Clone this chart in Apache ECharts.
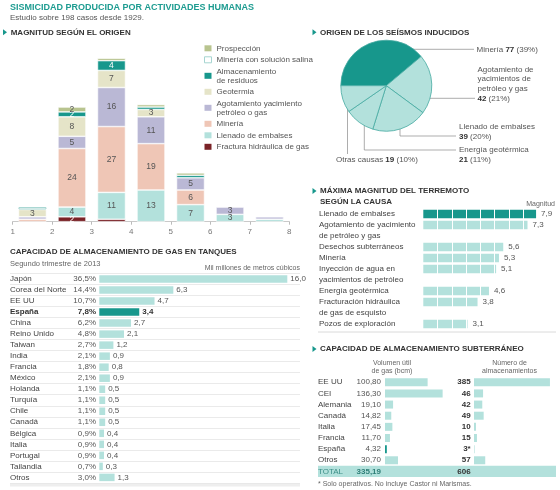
<!DOCTYPE html>
<html><head><meta charset="utf-8">
<script src="https://cdn.jsdelivr.net/npm/echarts@6/dist/echarts.min.js"></script>
<style>html,body{margin:0;padding:0;background:#fff}#c{width:560px;height:490px}</style>
</head><body><div id="c"></div>
<script>
// ================= DATA =================
// Stacked chart: magnitude bins
const magnitudeBins = ['1-2', '2-3', '3-4', '4-5', '5-6', '6-7', '7-8'];
const originNames = ['Fractura hidráulica de gas', 'Llenado de embalses', 'Minería',
  'Agotamiento yacimiento\npetróleo o gas', 'Geotermia', 'Almacenamiento\nde residuos',
  'Minería con solución salina', 'Prospección'];
const fractura       = [0, 2, 1, 0, 0, 0, 0];
const llenado        = [0, 4, 11, 13, 7, 3, 1];
const mineria        = [1, 24, 27, 19, 6, 0, 0];
const agotamiento    = [1, 5, 16, 11, 5, 3, 1];
const geotermia      = [3, 8, 7, 3, 0, 0, 0];
const almacenamiento = [0, 2, 4, 1, 1, 0, 0];
const salina         = [1, 0, 0, 0, 0, 0, 0];
const prospeccion    = [0, 2, 1, 1, 1, 0, 0];
const magnitudeTicks = ['1', '2', '3', '4', '5', '6', '7', '8'];

// Pie: origin of induced earthquakes
const pieNames = ['Minería', 'Agotamiento de\nyacimientos de\npetróleo y gas', 'Llenado de embalses', 'Energía geotérmica', 'Otras causas'];
const pieValues = [77, 42, 39, 21, 19];
const piePercents = [39, 21, 20, 11, 10];

// Maximum magnitude by cause
const causes = ['Llenado de embalses', 'Agotamiento de yacimiento\nde petróleo y gas', 'Desechos subterráneos',
  'Minería', 'Inyección de agua en\nyacimientos de petróleo', 'Energía geotérmica',
  'Fracturación hidráulica\nde gas de esquisto', 'Pozos de exploración'];
const maxMagnitudes = [7.9, 7.3, 5.6, 5.3, 5.1, 4.6, 3.8, 3.1];

// Gas tank storage capacity
const tankCountries = ['Japón', 'Corea del Norte', 'EE UU', 'España', 'China', 'Reino Unido', 'Taiwan', 'India',
  'Francia', 'México', 'Holanda', 'Turquía', 'Chile', 'Canadá', 'Bélgica', 'Italia', 'Portugal', 'Tailandia', 'Otros'];
const tankShares = [36.5, 14.4, 10.7, 7.8, 6.2, 4.8, 2.7, 2.1, 1.8, 2.1, 1.1, 1.1, 1.1, 1.1, 0.9, 0.9, 0.9, 0.7, 3.0];
const tankVolumes = [16.0, 6.3, 4.7, 3.4, 2.7, 2.1, 1.2, 0.9, 0.8, 0.9, 0.5, 0.5, 0.5, 0.5, 0.4, 0.4, 0.4, 0.3, 1.3];
const highlightCountry = 'España';

// Underground storage
const storageCountries = ['EE UU', 'CEI', 'Alemania', 'Canadá', 'Italia', 'Francia', 'España', 'Otros'];
const storageVolumes = [100.80, 136.30, 19.10, 14.82, 17.45, 11.70, 4.32, 30.70];
const storageCounts = [385, 46, 42, 49, 10, 15, 3, 57];
const storageCountNotes = ['', '', '', '', '', '', '*', ''];
const storageTotalLabel = 'TOTAL';
const storageTotalVolume = 335.19;
const storageTotalCount = 606;

// ================= STYLE / LAYOUT =================
const TEAL = '#17978c';
const LIGHT = '#b3e1dc';
const FONT = '"Liberation Sans", Arial, sans-serif';
const originColors = ['#7a2327', LIGHT, '#efc6b6', '#bab8d5', '#e5e4c8', TEAL, '#ffffff', '#b8c48f'];
const originLabelColors = ['#fff', '#555', '#555', '#555', '#555', '#fff', '#555', '#555'];
const originData = [fractura, llenado, mineria, agotamiento, geotermia, almacenamiento, salina, prospeccion];
const SALINA_IDX = 6;
const comma1 = v => v.toFixed(1).replace('.', ',');
const comma2 = v => v.toFixed(2).replace('.', ',');

// pie label layout (positions only)
const pieLabelLayout = [
  { x: 476.5, y: 44.5, sameLine: true,  pts: [[399.5, 49.3], [440, 49.3], [474, 49.3]] },
  { x: 477.5, y: 64.5, sameLine: false, pts: [[420.5, 98.3], [450, 98.3], [475, 98.3]] },
  { x: 459,   y: 122,  sameLine: false, pts: [[400, 122.7], [400, 136], [456, 136]] },
  { x: 459,   y: 145.2, sameLine: false, pts: [[364.3, 120], [364.3, 150], [456, 150]] },
  { x: 336,   y: 155.3, sameLine: true,  pts: [[347.5, 100], [347.5, 130], [347.5, 154]] }
];

// Build slot rows for multi-line cause labels
const causeSlots = [], causeSlotValues = [];
causes.forEach((c, i) => {
  c.split('\n').forEach((line, k) => {
    causeSlots.push(line);
    causeSlotValues.push(k === 0 ? { value: maxMagnitudes[i], itemStyle: { color: i === 0 ? TEAL : LIGHT } } : '-');
  });
});

const tankPx = 11.75; // px per unit
const tankLabelSpace = 89.3;
const tankGridWidth = 290;

const stackSeries = originNames.map((name, i) => ({
  type: 'bar', name, stack: 'origin', xAxisIndex: 0, yAxisIndex: 0, barWidth: 28,
  data: originData[i].map(v => (v > 0 ? v : '-')),
  itemStyle: { color: originColors[i], borderColor: i === SALINA_IDX ? '#a6d5d1' : '#fff', borderWidth: i === SALINA_IDX ? 1 : 0.6 },
  label: { show: true, position: 'inside', fontSize: 8.5, fontFamily: FONT, color: originLabelColors[i],
    formatter: p => (p.value >= 2 ? String(p.value) : '') }
}));

const legendData = originNames.map((n, i) => ({
  name: n,
  itemStyle: i === SALINA_IDX ? { borderColor: '#a6d5d1', borderWidth: 1 } : { borderWidth: 0 }
})).reverse();

const option = {
  animation: false,
  textStyle: { fontFamily: FONT },
  legend: {
    orient: 'vertical', left: 199, top: 38.8, itemWidth: 7, itemHeight: 6, itemGap: 2.5,
    icon: 'rect', data: legendData,
    textStyle: { fontSize: 8, color: '#555', lineHeight: 9, fontFamily: FONT }
  },
  grid: [
    { left: 12.7, top: 50.9, width: 276.6, height: 170.8 },
    { left: 423.3, top: 208.5, width: 114.2, height: 121 },
    { left: 10, top: 273.5, width: tankGridWidth, height: 209.4 },
    { left: 385, top: 376.7, width: 59.2, height: 100.3 },
    { left: 474, top: 376.7, width: 78.9, height: 100.3 }
  ],
  xAxis: [
    { gridIndex: 0, type: 'category', data: magnitudeBins, position: 'bottom', show: false },
    { gridIndex: 1, type: 'value', min: 0, max: 8, interval: 1, z: 3,
      axisLine: { show: false }, axisTick: { show: false }, axisLabel: { show: false },
      splitLine: { show: true, showMinLine: false, showMaxLine: false, lineStyle: { color: '#fff', width: 1 } } },
    { gridIndex: 2, type: 'value', min: -tankLabelSpace / tankPx, max: (tankGridWidth - tankLabelSpace) / tankPx,
      axisLine: { show: false }, axisTick: { show: false }, axisLabel: { show: false }, splitLine: { show: false } },
    { gridIndex: 3, type: 'value', min: 0, max: 140, show: false },
    { gridIndex: 4, type: 'value', min: 0, max: 400, show: false },
    { gridIndex: 0, type: 'value', min: 1, max: 8, interval: 1, position: 'bottom',
      axisLine: { lineStyle: { color: '#bbb', width: 0.8 } },
      axisTick: { show: true, length: 3, lineStyle: { color: '#bbb' } },
      axisLabel: { fontSize: 8, color: '#777', margin: 6, formatter: v => magnitudeTicks[v - 1] },
      splitLine: { show: false } }
  ],
  yAxis: [
    { gridIndex: 0, type: 'value', min: 0, max: 70, show: false },
    { gridIndex: 1, type: 'category', inverse: true, data: causeSlots,
      axisLine: { show: false }, axisTick: { show: false },
      axisLabel: { interval: 0, align: 'left', margin: 104.3, fontSize: 8, color: '#444' } },
    { gridIndex: 2, type: 'category', inverse: true, data: tankCountries, position: 'left',
      axisLine: { show: false }, axisTick: { show: false },
      splitLine: { show: true, lineStyle: { color: '#e4e4e4', width: 0.8 } },
      axisLabel: { interval: 0, inside: true, margin: 0, align: 'left', fontSize: 8, color: '#444',
        formatter: v => (v === highlightCountry ? '{b|' + v + '}' : v),
        rich: { b: { fontWeight: 'bold', fontSize: 8, color: '#333' } } } },
    { gridIndex: 2, type: 'category', inverse: true, position: 'left',
      data: tankShares.map(v => comma1(v) + '%'),
      axisLine: { show: false }, axisTick: { show: false },
      axisLabel: { interval: 0, inside: true, margin: 86, align: 'right', fontSize: 8, color: '#555',
        formatter: (v, i) => (tankCountries[i] === highlightCountry ? '{b|' + v + '}' : v),
        rich: { b: { fontWeight: 'bold', fontSize: 8, color: '#333' } } } },
    { gridIndex: 3, type: 'category', inverse: true, position: 'left',
      data: storageCountries.concat([storageTotalLabel]),
      axisLine: { show: false }, axisTick: { show: false },
      axisLabel: { interval: 0, margin: 67, align: 'left', fontSize: 8, color: '#444',
        formatter: v => (v === storageTotalLabel ? '{t|' + v + '}' : v),
        rich: { t: { fontSize: 8, color: '#3d8f88' } } } },
    { gridIndex: 3, type: 'category', inverse: true, position: 'left',
      data: storageVolumes.map(comma2).concat([comma2(storageTotalVolume)]),
      axisLine: { show: false }, axisTick: { show: false },
      axisLabel: { interval: 0, margin: 4, align: 'right', fontSize: 8, color: '#555',
        formatter: (v, i) => (i === storageCountries.length ? '{b|' + v + '}' : v),
        rich: { b: { fontWeight: 'bold', fontSize: 8, color: '#2f7f78' } } } },
    { gridIndex: 4, type: 'category', inverse: true, position: 'left',
      data: storageCounts.map((v, i) => v + storageCountNotes[i]).concat([String(storageTotalCount)]),
      axisLine: { show: false }, axisTick: { show: false },
      axisLabel: { interval: 0, margin: 3.3, align: 'right', fontSize: 8, color: '#333', fontWeight: 'bold' } }
  ],
  series: stackSeries.concat([
    {
      type: 'pie', center: [386.3, 85.7], radius: 45.5, startAngle: 180, clockwise: true,
      silent: true,
      data: pieNames.map((n, i) => ({ name: n, value: pieValues[i],
        itemStyle: { color: i === 0 ? TEAL : LIGHT } })),
      itemStyle: { borderColor: '#45aaa1', borderWidth: 0.8 },
      label: {
        show: true, position: 'outside', fontSize: 8, color: '#555', lineHeight: 9.7,
        formatter: p => pieNames[p.dataIndex] + (pieLabelLayout[p.dataIndex].sameLine ? ' ' : '\n') +
          '{b|' + pieValues[p.dataIndex] + '} (' + piePercents[p.dataIndex] + '%)',
        rich: { b: { fontWeight: 'bold', fontSize: 8, color: '#333', lineHeight: 9.7 } }
      },
      labelLine: { show: true, lineStyle: { color: '#8a8a8a', width: 0.7 } },
      labelLayout: p => {
        const L = pieLabelLayout[p.dataIndex];
        return { x: L.x, y: L.y, align: 'left', verticalAlign: 'top', labelLinePoints: L.pts };
      }
    },
    {
      type: 'bar', xAxisIndex: 1, yAxisIndex: 1, barWidth: 8.5, silent: true,
      data: causeSlotValues, z: 2
    },
    {
      type: 'bar', xAxisIndex: 1, yAxisIndex: 1, barWidth: 8.5, barGap: '-100%', silent: true, z: 5,
      data: causeSlotValues.map(d => (d === '-' ? '-' : d.value)),
      itemStyle: { color: 'rgba(0,0,0,0)' },
      label: { show: true, position: 'right', distance: 5, fontSize: 8, color: '#555',
        formatter: p => comma1(p.value) }
    },
    {
      type: 'bar', xAxisIndex: 2, yAxisIndex: 2, barWidth: 7.5, silent: true,
      data: tankVolumes.map((v, i) => ({ value: v,
        itemStyle: { color: tankCountries[i] === highlightCountry ? TEAL : LIGHT } })),
      label: { show: true, position: 'right', distance: 3, fontSize: 8, color: '#555',
        formatter: p => (tankCountries[p.dataIndex] === highlightCountry ? '{b|' + comma1(p.value) + '}' : comma1(p.value)),
        rich: { b: { fontWeight: 'bold', fontSize: 8, color: '#333' } } }
    },
    {
      type: 'bar', xAxisIndex: 3, yAxisIndex: 4, barWidth: 8, silent: true,
      data: storageVolumes.map((v, i) => ({ value: v,
        itemStyle: { color: storageCountries[i] === highlightCountry ? TEAL : LIGHT } })).concat(['-'])
    },
    {
      type: 'bar', xAxisIndex: 4, yAxisIndex: 6, barWidth: 8, silent: true,
      data: storageCounts.map(v => ({ value: v, itemStyle: { color: LIGHT } })).concat(['-'])
    }
  ]),
  graphic: [
    { type: 'text', x: 10, y: 7.5, style: { text: 'SISMICIDAD PRODUCIDA POR ACTIVIDADES HUMANAS', font: 'bold 9px ' + FONT, fill: '#1e9c91', verticalAlign: 'middle' } },
    { type: 'text', x: 10, y: 18, style: { text: 'Estudio sobre 198 casos desde 1929.', font: '8px ' + FONT, fill: '#555', verticalAlign: 'middle' } },
    { type: 'polygon', shape: { points: [[3, 29.3], [7, 32.3], [3, 35.3]] }, style: { fill: TEAL } },
    { type: 'text', x: 10.7, y: 32.3, style: { text: 'MAGNITUD SEGÚN EL ORIGEN', font: 'bold 8px ' + FONT, fill: '#333', verticalAlign: 'middle' } },
    { type: 'polygon', shape: { points: [[312.5, 29.3], [316.5, 32.3], [312.5, 35.3]] }, style: { fill: TEAL } },
    { type: 'text', x: 320, y: 32.3, style: { text: 'ORIGEN DE LOS SEÍSMOS INDUCIDOS', font: 'bold 8px ' + FONT, fill: '#333', verticalAlign: 'middle' } },
    { type: 'polygon', shape: { points: [[312.5, 188], [316.5, 191], [312.5, 194]] }, style: { fill: TEAL } },
    { type: 'text', x: 320, y: 191, style: { text: 'MÁXIMA MAGNITUD DEL TERREMOTO', font: 'bold 8px ' + FONT, fill: '#333', verticalAlign: 'middle' } },
    { type: 'text', x: 320, y: 202, style: { text: 'SEGÚN LA CAUSA', font: 'bold 8px ' + FONT, fill: '#333', verticalAlign: 'middle' } },
    { type: 'text', x: 555, y: 204.5, style: { text: 'Magnitud', font: '7px ' + FONT, fill: '#666', align: 'right', verticalAlign: 'middle' } },
    { type: 'line', shape: { x1: 318, y1: 332, x2: 556, y2: 332 }, style: { stroke: '#d0d0d0', lineWidth: 0.8 } },
    { type: 'text', x: 10, y: 252, style: { text: 'CAPACIDAD DE ALMACENAMIENTO DE GAS EN TANQUES', font: 'bold 8px ' + FONT, fill: '#333', verticalAlign: 'middle' } },
    { type: 'text', x: 10, y: 264, style: { text: 'Segundo trimestre de 2013', font: '7.5px ' + FONT, fill: '#666', verticalAlign: 'middle' } },
    { type: 'text', x: 300, y: 268.3, style: { text: 'Mil millones de metros cúbicos', font: '7px ' + FONT, fill: '#666', align: 'right', verticalAlign: 'middle' } },
    { type: 'rect', shape: { x: 10, y: 483.5, width: 290, height: 3 }, style: { fill: '#eeeeee' } },
    { type: 'polygon', shape: { points: [[312.5, 346], [316.5, 349], [312.5, 352]] }, style: { fill: TEAL } },
    { type: 'text', x: 320, y: 349, style: { text: 'CAPACIDAD DE ALMACENAMIENTO SUBTERRÁNEO', font: 'bold 8px ' + FONT, fill: '#333', verticalAlign: 'middle' } },
    { type: 'text', x: 392, y: 362.7, style: { text: 'Volumen útil', font: '7px ' + FONT, fill: '#666', align: 'center', verticalAlign: 'middle' } },
    { type: 'text', x: 392, y: 371.5, style: { text: 'de gas (bcm)', font: '7px ' + FONT, fill: '#666', align: 'center', verticalAlign: 'middle' } },
    { type: 'text', x: 509.5, y: 362.7, style: { text: 'Número de', font: '7px ' + FONT, fill: '#666', align: 'center', verticalAlign: 'middle' } },
    { type: 'text', x: 509.5, y: 371.5, style: { text: 'almacenamientos', font: '7px ' + FONT, fill: '#666', align: 'center', verticalAlign: 'middle' } },
    { type: 'rect', z: -10, shape: { x: 318, y: 465.8, width: 238, height: 11.2 }, style: { fill: LIGHT } },
    { type: 'text', x: 318, y: 484, style: { text: '* Solo operativos. No incluye Castor ni Marismas.', font: '7px ' + FONT, fill: '#666', verticalAlign: 'middle' } }
  ]
};

const chart = echarts.init(document.getElementById('c'), null, { renderer: 'canvas' });
chart.setOption(option);
</script>
</body></html>
